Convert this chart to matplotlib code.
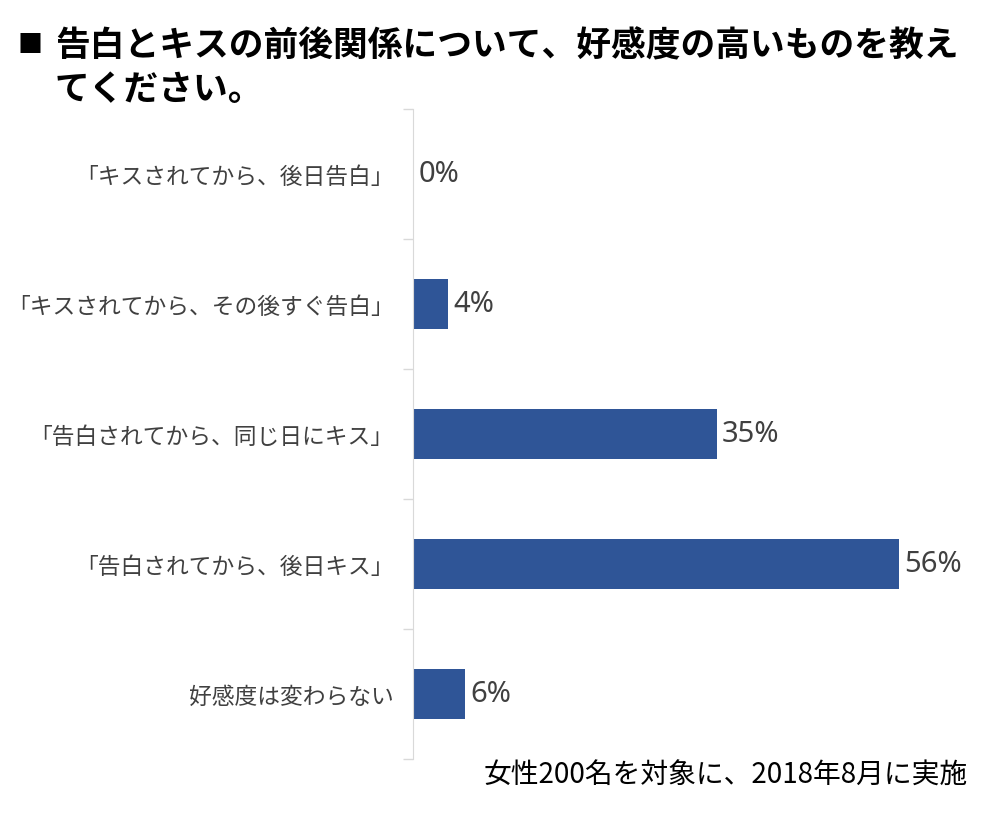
import matplotlib.pyplot as plt
import numpy as np

plt.rcParams['font.family'] = ['Noto Sans CJK JP', 'DejaVu Sans']

# ---- Data
categories = [
    "「キスされてから、後日告白」",
    "「キスされてから、その後すぐ告白」",
    "「告白されてから、同じ日にキス」",
    "「告白されてから、後日キス」",
    "好感度は変わらない",
]
values = [0, 4, 35, 56, 6]

TITLE = "告白とキスの前後関係について、好感度の高いものを教え\nてください。"
NOTE = "女性200名を対象に、2018年8月に実施"

COLOR_BAR = "#2F5597"
COLOR_TEXT = "#404040"
COLOR_AXIS = "#D9D9D9"

fig = plt.figure(figsize=(10, 8.37), dpi=100)
ax = fig.add_axes([0.413, 0.092, 0.55, 0.7766])

y = np.arange(len(categories))
ax.barh(y, values, height=0.39, color=COLOR_BAR)
ax.set_ylim(len(categories) - 0.5, -0.5)
ax.set_xlim(0, 0.55 * 1000 / 8.68)

for yi, v in zip(y, values):
    ax.text(v + 0.6, yi, f"{v}%", va='center', ha='left',
            fontsize=21, color=COLOR_TEXT, family=['Noto Sans', 'DejaVu Sans'])

ax.set_yticks(y)
ax.set_yticklabels(categories, fontsize=16.4, color=COLOR_TEXT)
ax.tick_params(axis='y', which='major', length=0, pad=14)
ax.set_yticks(np.arange(-0.5, len(categories)), minor=True)
ax.tick_params(axis='y', which='minor', length=7, color=COLOR_AXIS, width=1)
ax.set_xticks([])

for side in ['top', 'right', 'bottom']:
    ax.spines[side].set_visible(False)
ax.spines['left'].set_color(COLOR_AXIS)

# title with square bullet
fig.text(0.018, 0.946, "■", fontsize=18, color='black', va='center', ha='left')
fig.text(0.055, 0.966, TITLE, fontsize=25, fontweight='bold', color='black',
         va='top', ha='left', linespacing=1.3)

fig.text(0.968, 0.073, NOTE, fontsize=20, color='black', va='center', ha='right')

fig.savefig('out.png', dpi=100)
